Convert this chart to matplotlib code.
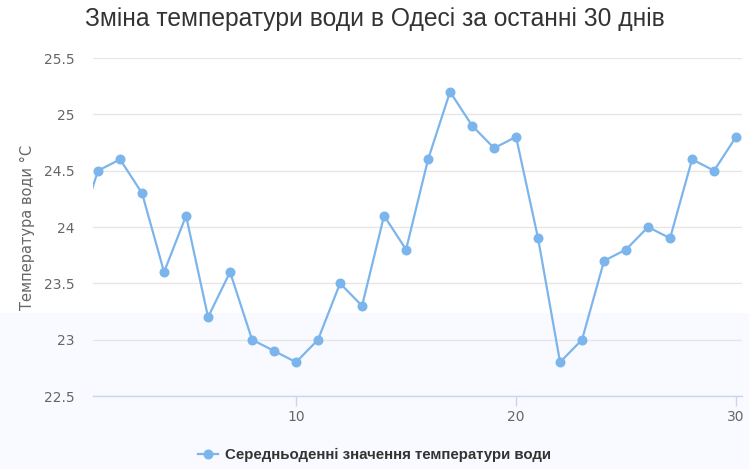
import matplotlib
matplotlib.use('Agg')
from matplotlib import pyplot as plt
from matplotlib.patches import Rectangle
from matplotlib.lines import Line2D

# daily mean water temperature, day 0 is just off the left edge
days = list(range(0, 31))
temps = [23.9, 24.5, 24.6, 24.3, 23.6, 24.1, 23.2, 23.6, 23.0, 22.9, 22.8,
         23.0, 23.5, 23.3, 24.1, 23.8, 24.6, 25.2, 24.9, 24.7, 24.8,
         23.9, 22.8, 23.0, 23.7, 23.8, 24.0, 23.9, 24.6, 24.5, 24.8]
yticks = [22.5, 23, 23.5, 24, 24.5, 25, 25.5]
ytick_labels = ['22.5', '23', '23.5', '24', '24.5', '25', '25.5']
xticks = [10, 20, 30]

title = 'Зміна температури води в Одесі за останні 30 днів'
ylabel = 'Температура води °C'
series_name = 'Середньоденні значення температури води'

line_color = '#7cb5ec'

fig = plt.figure(figsize=(7.49, 4.69), dpi=100)
fig.patch.set_facecolor('white')
# light page band at the bottom
fig.patches.append(Rectangle((0, 0), 1, 1 - 313 / 469, transform=fig.transFigure,
                             facecolor='#f9faff', edgecolor='none', zorder=-5))

ax = fig.add_axes([93 / 749, 1 - 396 / 469, (742 - 93) / 749, (396 - 58) / 469])
ax.set_facecolor('none')

ax.plot(days, temps, color=line_color, lw=1.6, marker='o', markersize=7.2,
        markeredgewidth=0, zorder=3, clip_on=True)

ax.set_xlim(0.77, 30.27)
ax.set_ylim(22.5, 25.5)
ax.set_yticks(yticks)
ax.set_yticklabels(ytick_labels)
ax.set_xticks(xticks)

for s in ['top', 'right', 'left']:
    ax.spines[s].set_visible(False)
ax.spines['bottom'].set_color('#ccd6eb')
ax.spines['bottom'].set_linewidth(1)

ax.grid(axis='y', color='#e6e6e6', lw=1)
ax.set_axisbelow(True)
ax.tick_params(axis='y', length=0, labelsize=10, labelcolor='#666666', pad=13.5)
ax.tick_params(axis='x', length=7, width=1, color='#ccd6eb', labelsize=10,
               labelcolor='#666666', pad=3)

ax.set_ylabel(ylabel, fontsize=10.5, color='#666666', labelpad=6)

fig.text(0.5, 1 - 19 / 469, title, ha='center', va='center', fontsize=17.7,
         color='#333333', family=['Liberation Sans', 'DejaVu Sans'])

# legend
handle = Line2D([], [], color=line_color, lw=1.6, marker='o', markersize=7.2,
                markeredgewidth=0)
fig.legend([handle], [series_name], loc='center', bbox_to_anchor=(0.5, 1 - 455 / 469),
           frameon=False, prop={'weight': 'bold', 'size': 10.8,
                                'family': ['Liberation Sans', 'DejaVu Sans']},
           labelcolor='#333333', handlelength=1.3, handletextpad=0.5)

plt.savefig('out.png', dpi=100)
